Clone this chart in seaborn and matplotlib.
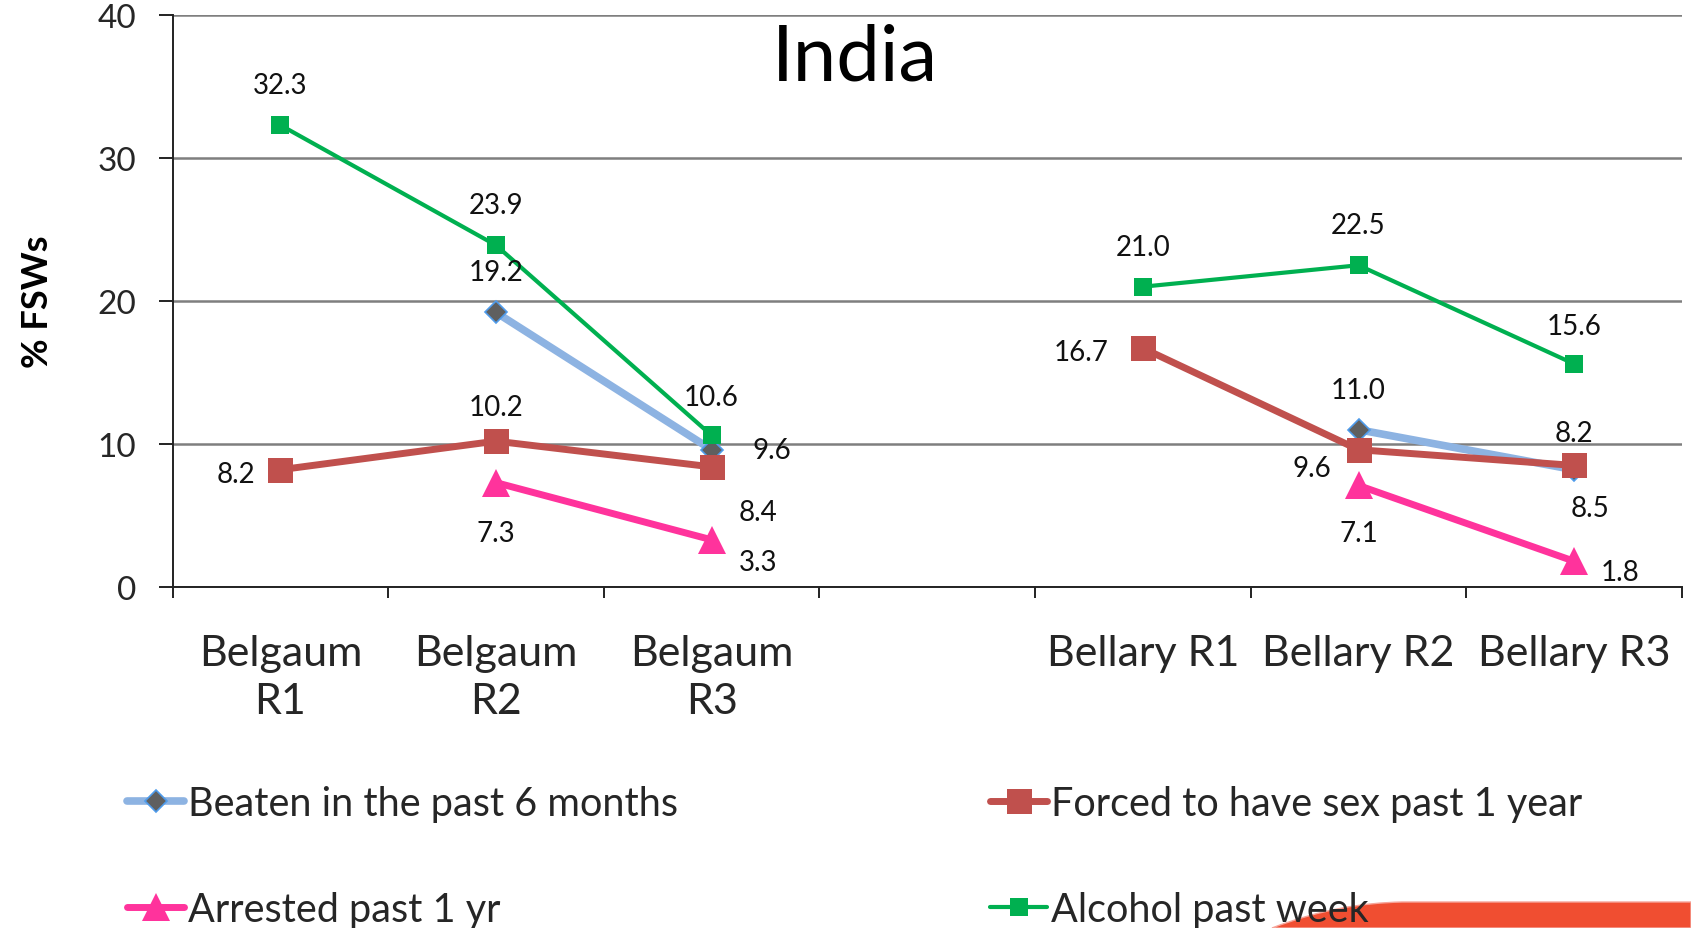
import numpy as np
import pandas as pd
import matplotlib
matplotlib.use("Agg")
import matplotlib.pyplot as plt
import seaborn as sns
from matplotlib.path import Path
from matplotlib.patches import PathPatch
from matplotlib.lines import Line2D

# Survey rounds (slot 4 is an empty spacer between the two districts)
sites = ["Belgaum\nR1", "Belgaum\nR2", "Belgaum\nR3", "", "Bellary R1", "Bellary R2", "Bellary R3"]
regions = ["Belgaum", "Belgaum", "Belgaum", "gap", "Bellary", "Bellary", "Bellary"]

# % of FSWs reporting each outcome
beaten = [np.nan, 19.2, 9.6, np.nan, np.nan, 11.0, 8.2]
forced = [8.2, 10.2, 8.4, np.nan, 16.7, 9.6, 8.5]
arrested = [np.nan, 7.3, 3.3, np.nan, np.nan, 7.1, 1.8]
alcohol = [32.3, 23.9, 10.6, np.nan, 21.0, 22.5, 15.6]

series_names = ["Beaten in the past 6 months", "Forced to have sex past 1 year",
                "Arrested past 1 yr", "Alcohol past week"]
y_ticks = [0, 10, 20, 30, 40]

# Value-label offsets (pixels) for each point
beaten_off = [None, (0, 40), (60, 0), None, None, (0, 40), (0, 37)]
forced_off = [(-44, -4), (0, 34), (46, -45), None, (-62, -4), (-47, -18), (16, -43)]
arrested_off = [None, (0, -50), (46, -22), None, None, (0, -48), (46, -11)]
alcohol_off = [(0, 40), (0, 40), (0, 38), None, (0, 40), (0, 40), (0, 38)]

W, H = 1691, 929
sns.set_style("white")
plt.rcParams["font.family"] = ["Lato", "DejaVu Sans"]

fig = plt.figure(figsize=(W / 100, H / 100), dpi=100)
ax = fig.add_axes([172.5 / W, 1 - 588 / H, (1682 - 172.5) / W, 572 / H])

positions = list(range(len(sites)))

styles = [
    dict(color="#8DB3E2", lw=5.5, marker="D", markersize=11, markerfacecolor="#5F5F5F",
         markeredgecolor="#4F9BEA", markeredgewidth=1.2),
    dict(color="#C0504D", lw=5.0, marker="s", markersize=18, markerfacecolor="#C0504D",
         markeredgecolor="#C0504D", markeredgewidth=0),
    dict(color="#FF339C", lw=5.0, marker="^", markersize=20, markerfacecolor="#FF339C",
         markeredgecolor="#FF339C", markeredgewidth=0),
    dict(color="#00B050", lw=3.0, marker="s", markersize=13, markerfacecolor="#00B050",
         markeredgecolor="#00B050", markeredgewidth=0),
]
all_vals = [beaten, forced, arrested, alcohol]
all_offs = [beaten_off, forced_off, arrested_off, alcohol_off]

for z, (name, vals, st, offs) in enumerate(zip(series_names, all_vals, styles, all_offs)):
    d = pd.DataFrame({"pos": positions, "value": vals, "region": regions}).dropna()
    sns.lineplot(data=d, x="pos", y="value", units="region", estimator=None,
                 ax=ax, legend=False, zorder=3 + z, **st)
    for p, v, o in zip(positions, vals, offs):
        if np.isnan(v) or o is None:
            continue
        ax.annotate(f"{v:.1f}", (p, v), xytext=o, textcoords="offset pixels",
                    ha="center", va="center", fontsize=20, color="#111111", zorder=10)

ax.set_xlim(-0.5, 6.5)
ax.set_ylim(0, 40)
ax.set_xlabel("")
ax.set_ylabel("")

ax.set_yticks(y_ticks)
ax.set_yticklabels([str(t) for t in y_ticks])
ax.yaxis.grid(True, color="#7F7F7F", lw=1.8)
ax.set_axisbelow(True)
ax.tick_params(axis="y", direction="out", length=10, width=1.4, color="#222222",
               labelsize=24, pad=16, left=True)

ax.set_xticks(np.arange(-0.5, 7.0, 1.0))
ax.set_xticklabels([])
ax.tick_params(axis="x", which="major", direction="out", length=8, width=1.4,
               color="#222222", bottom=True)
ax.set_xticks(positions, minor=True)
ax.set_xticklabels(sites, minor=True)
ax.tick_params(axis="x", which="minor", length=0, labelsize=31, pad=34)
for lbl in ax.get_xticklabels(minor=True):
    lbl.set_linespacing(1.3)
    lbl.set_verticalalignment("top")

for s in ["top", "right"]:
    ax.spines[s].set_visible(False)
for s in ["left", "bottom"]:
    ax.spines[s].set_color("#222222")
    ax.spines[s].set_linewidth(1.4)

fig.text(855 / W, 1 - 59 / H, "India", ha="center", va="center", fontsize=56, color="black")
fig.text(38 / W, 1 - 302 / H, "% FSWs", rotation=90, ha="center", va="center",
         fontsize=26, fontweight="bold", color="black")

# Legend: two columns placed at the left and centre of the lower band
handles = [Line2D([0], [0], **st) for st in styles]
leg_kw = dict(frameon=False, fontsize=28.5, handlelength=1.45, handletextpad=0.1,
              labelspacing=1.75, borderpad=0, borderaxespad=0, loc="upper left")
leg1 = fig.legend([handles[0], handles[2]], [series_names[0], series_names[2]],
                  bbox_to_anchor=(127 / W, 1 - 786 / H), **leg_kw)
leg2 = fig.legend([handles[1], handles[3]], [series_names[1], series_names[3]],
                  bbox_to_anchor=(990 / W, 1 - 786 / H), **leg_kw)

# Decorative banner in the lower-right corner
verts = [(1272, 929), (1322, 910), (1362, 904), (1402, 903), (1691, 903), (1691, 929), (1272, 929)]
codes = [Path.MOVETO, Path.CURVE4, Path.CURVE4, Path.CURVE4, Path.LINETO, Path.LINETO, Path.CLOSEPOLY]
verts_fig = [(x / W, 1 - y / H) for x, y in verts]
banner = PathPatch(Path(verts_fig, codes), transform=fig.transFigure,
                   facecolor="#F04E31", edgecolor="#F6A59A", lw=1.0, zorder=0)
fig.patches.append(banner)

fig.savefig("out.png", dpi=100)
